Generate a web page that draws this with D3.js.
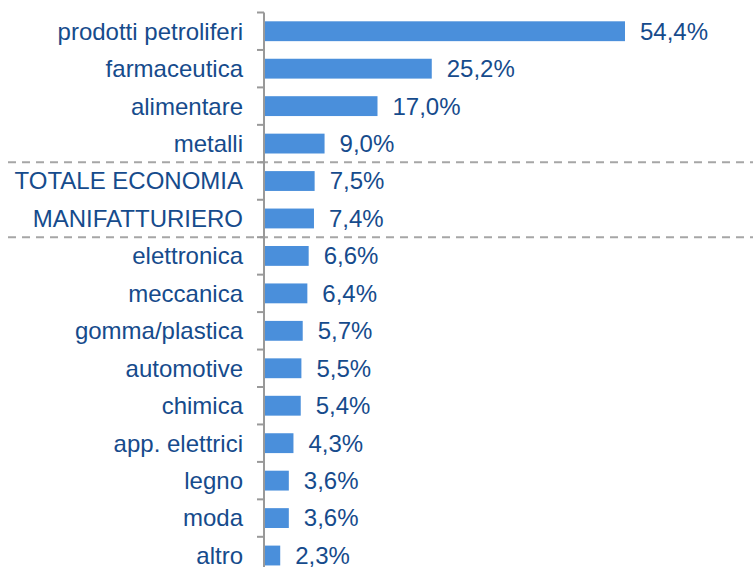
<!DOCTYPE html>
<html>
<head>
<meta charset="utf-8">
<script src="https://cdn.jsdelivr.net/npm/d3@7"></script>
<style>
  body { margin: 0; background: #fff; }
  text { font-family: "Liberation Sans", Arial, sans-serif; }
</style>
</head>
<body>
<div id="chart"></div>
<script>
// data
let categories = ["prodotti petroliferi", "farmaceutica", "alimentare", "metalli",
  "TOTALE ECONOMIA", "MANIFATTURIERO", "elettronica", "meccanica", "gomma/plastica",
  "automotive", "chimica", "app. elettrici", "legno", "moda", "altro"];
let values = [54.4, 25.2, 17.0, 9.0, 7.5, 7.4, 6.6, 6.4, 5.7, 5.5, 5.4, 4.3, 3.6, 3.6, 2.3];
let separators = ["TOTALE ECONOMIA", "elettronica"]; // dashed line above these rows

// dimensions
let width = 753;
let height = 567;
let marginLeft = 265;
let marginTop = 12.5;
let band = 37.45;
let fontSize = "24px";

let svg = d3.select("#chart")
  .append("svg")
  .attr("width", width)
  .attr("height", height);

let x = d3.scaleLinear()
  .domain([0, 54.4])
  .range([marginLeft, 625]);

let y = d3.scaleBand()
  .domain(categories)
  .range([marginTop, marginTop + band * categories.length])
  .paddingInner(0.47)
  .paddingOuter(0.235);

let fmt = d => d.toFixed(1).replace(".", ",") + "%";

// dashed separators
svg.selectAll(".sep")
  .data(separators)
  .enter()
  .append("line")
  .attr("x1", 8)
  .attr("x2", width)
  .attr("y1", d => y(d) - y.step() * y.paddingInner() / 2)
  .attr("y2", d => y(d) - y.step() * y.paddingInner() / 2)
  .attr("stroke", "#a6a6a6")
  .attr("stroke-width", 2)
  .attr("stroke-dasharray", "8,6");

// bars
svg.selectAll(".bar")
  .data(values)
  .enter()
  .append("rect")
  .attr("x", x(0))
  .attr("y", (d, i) => y(categories[i]))
  .attr("width", d => x(d) - x(0))
  .attr("height", y.bandwidth())
  .attr("fill", "#4a8fdb");

// value labels
svg.selectAll(".val")
  .data(values)
  .enter()
  .append("text")
  .attr("x", d => x(d) + 15)
  .attr("y", (d, i) => y(categories[i]) + y.bandwidth() / 2)
  .attr("dy", "0.35em")
  .attr("font-size", fontSize)
  .attr("fill", "#164b8c")
  .text(fmt);

// axis with ticks between categories
let axis = svg.append("g");
axis.append("line")
  .attr("x1", marginLeft - 1)
  .attr("x2", marginLeft - 1)
  .attr("y1", marginTop)
  .attr("y2", height)
  .attr("stroke", "#999")
  .attr("stroke-width", 2);
axis.selectAll(".tick")
  .data(d3.range(categories.length + 1))
  .enter()
  .append("line")
  .attr("x1", marginLeft - 8)
  .attr("x2", marginLeft - 1)
  .attr("y1", i => marginTop + i * y.step())
  .attr("y2", i => marginTop + i * y.step())
  .attr("stroke", "#999")
  .attr("stroke-width", 2);

// category labels
svg.selectAll(".lab")
  .data(categories)
  .enter()
  .append("text")
  .attr("x", 243)
  .attr("y", d => y(d) + y.bandwidth() / 2)
  .attr("dy", "0.35em")
  .attr("text-anchor", "end")
  .attr("font-size", fontSize)
  .attr("fill", "#164b8c")
  .text(d => d);
</script>
</body>
</html>
